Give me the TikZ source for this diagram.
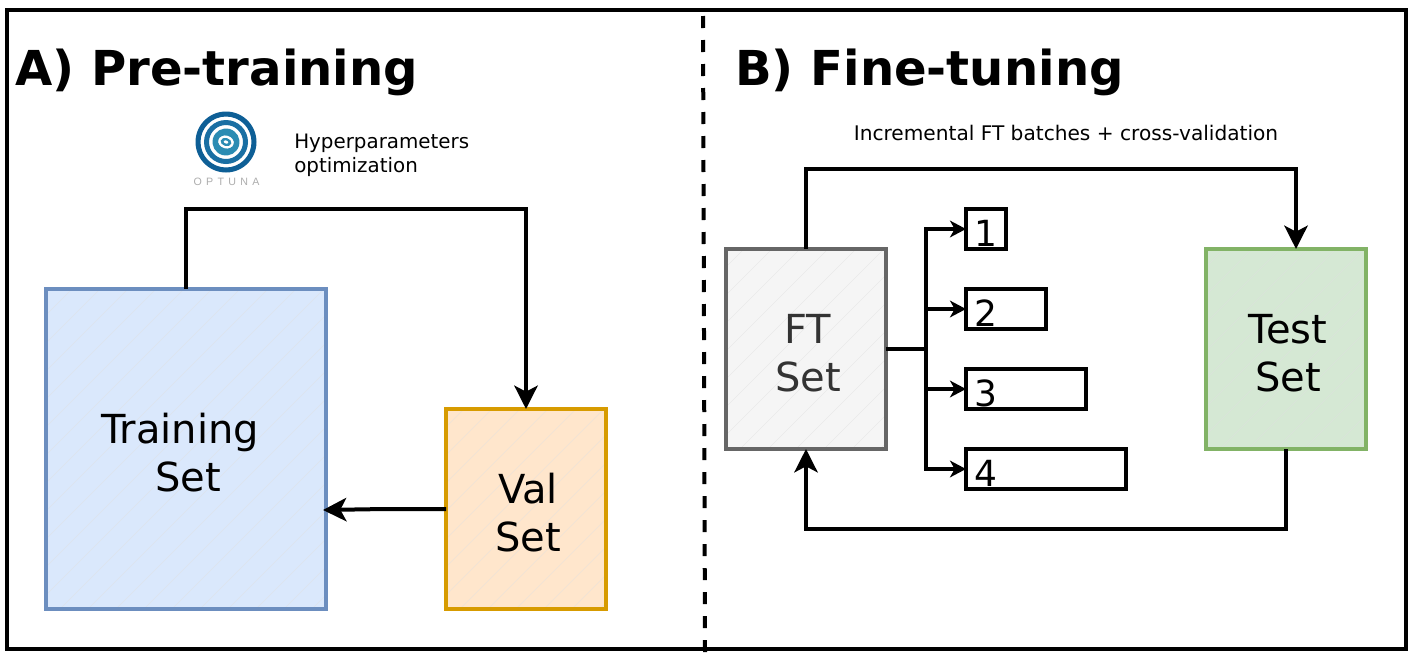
\documentclass[tikz,border=0pt]{standalone}
\usepackage{fontspec}
\setmainfont{DejaVu Sans}
\newfontfamily\logofont[LetterSpace=40]{Liberation Sans}
\usetikzlibrary{arrows.meta,calc}
\definecolor{trainfill}{HTML}{DAE8FC}\definecolor{trainline}{HTML}{6C8EBF}
\definecolor{valfill}{HTML}{FFE6CC}\definecolor{valline}{HTML}{D79B00}
\definecolor{ftfill}{HTML}{F5F5F5}\definecolor{ftline}{HTML}{666666}
\definecolor{testfill}{HTML}{D5E8D4}\definecolor{testline}{HTML}{82B366}
\definecolor{hatchline}{HTML}{E0E0E0}
\definecolor{logodark}{HTML}{0E5F96}\definecolor{logomid}{HTML}{1A6FA3}\definecolor{logolight}{HTML}{2B8CB3}
\newcommand{\topstrut}{\rule{0pt}{28.3pt}}
\tikzset{
  setbox/.style 2 args={draw=#1,line width=3pt,fill=#2,
    path picture={\foreach \k in {0,28,...,700}{
      \draw[hatchline,line width=0.35pt,opacity=0.55] ([xshift=\k*0.75pt-262.5pt]path picture bounding box.south west) -- ++(350,-350);}},
    inner sep=0pt,outer sep=0pt,align=center,font=\fontsize{30}{36}\selectfont},
  batchbox/.style={draw=black,line width=3pt,fill=white,inner sep=0pt,outer sep=0pt,minimum height=30pt},
  batchlabel/.style={inner sep=0pt,anchor=base,font=\fontsize{27}{32}\selectfont},
  link/.style={draw=black,line width=3pt,line join=miter},
  bigtip/.style={-{Stealth[length=17.5pt,width=17.5pt,inset=4.5pt]}},
  smalltip/.style={-{Stealth[length=12pt,width=12.5pt,inset=3.5pt]}},
  title/.style={inner sep=0pt,anchor=base west,font=\fontsize{36.1}{43}\selectfont\bfseries},
  caption/.style={inner sep=0pt,font=\fontsize{15.1}{18}\selectfont},
}
\begin{document}
\begin{tikzpicture}[x=0.75pt,y=-0.75pt]
\useasboundingbox (0,0) rectangle (1416,664);
\fill[white] (0,0) rectangle (1416,664);
\draw[black,line width=3pt] (7,10) rectangle (1406,649);
\draw[black,line width=3pt,dash pattern=on 9pt off 9pt] (703,16) -- (705,652);

\node[title] (ta) at (15,85) {A) Pre-training};
\node[title] (tb) at (735,85) {B) Fine-tuning};

% logo
\fill[logodark,even odd rule] (226,142) circle (30.5) (226,142) circle (25.5);
\fill[logomid,even odd rule] (226,142) circle (22) (226,142) circle (17);
\fill[logolight,even odd rule,rotate around={-15:(226,142)}] (226,142) circle (13.5) (226,142) ellipse (8 and 6.5);
\fill[logolight,even odd rule,rotate around={-15:(226,142)}] (226,142) ellipse (5.5 and 4) (226,142) ellipse (2.5 and 1.6);
\node[inner sep=0pt,text=black!32,font=\logofont\fontsize{8}{9}\selectfont] (logotext) at (226.5,182) {OPTUNA};

\node[caption,anchor=north west,align=left,font=\fontsize{14.9}{18}\selectfont] (hp) at (294,134) {Hyperparameters\\optimization};
\node[caption,anchor=base] (inc) at (1066,140) {Incremental FT batches + cross-validation};

\node[setbox={trainline}{trainfill},minimum width=210pt,minimum height=240pt] (train) at (186,449) {\topstrut Training\hspace*{9pt}\\\hspace*{3pt}Set};
\node[setbox={valline}{valfill},minimum width=120pt,minimum height=150pt] (val) at (526,509) {\topstrut\hspace*{3pt}Val\\\hspace*{3pt}Set};
\node[setbox={ftline}{ftfill},minimum width=120pt,minimum height=150pt,text=black!80] (ft) at (806,349) {\topstrut\hspace*{3pt}FT\\\hspace*{3pt}Set};
\node[setbox={testline}{testfill},minimum width=120pt,minimum height=150pt] (test) at (1286,349) {\topstrut\hspace*{3pt}Test\\\hspace*{3pt}Set};

\node[batchbox,minimum width=30pt,anchor=west] (b1) at (966,229) {};
\node[batchbox,minimum width=60pt,anchor=west] (b2) at (966,309) {};
\node[batchbox,minimum width=90pt,anchor=west] (b3) at (966,389) {};
\node[batchbox,minimum width=120pt,anchor=west] (b4) at (966,469) {};
\node[batchlabel] (n1) at (986,246) {1};
\node[batchlabel] (n2) at (986,326) {2};
\node[batchlabel] (n3) at (986,406) {3};
\node[batchlabel] (n4) at (986,486) {4};

\coordinate (split) at (926,349);
\coordinate (trainin) at (323,510);
\coordinate (valout) at (385,509);

\draw[link,bigtip] (train.north) -- (186,209) -| (val.north);
\draw[link,bigtip] (val.west) -- (valout) -- (trainin);
\draw[link,bigtip] (ft.north) -- (806,169) -| ([xshift=7.5pt]test.north);
\draw[link,bigtip] (test.south) -- (1286,529) -| (ft.south);
\draw[link] (ft.east) -- (split);
\foreach \b in {b1,b2,b3,b4}{
  \draw[link,smalltip] (split) |- (\b.west);
}
\end{tikzpicture}
\end{document}
